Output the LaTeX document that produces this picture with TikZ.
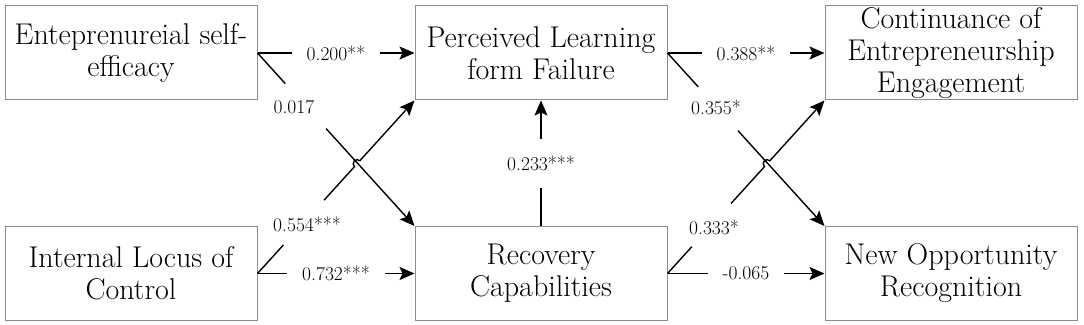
\documentclass[tikz,border=0pt]{standalone}
\usetikzlibrary{arrows.meta,calc}

\tikzset{
  box/.style={draw=black!45,line width=1pt,minimum width=252pt,minimum height=94pt,
    inner sep=0pt,align=center,font=\fontsize{30}{32}\selectfont},
  lbl/.style={font=\fontsize{19.5}{21}\selectfont,inner sep=0pt},
  gap/.style={fill=white,inner xsep=15pt,inner ysep=2pt},
  link/.style={line width=1.4pt,-{Stealth[length=15pt,width=13pt,inset=3pt]}},
  bare/.style={line width=1.4pt}
}

\begin{document}
\begin{tikzpicture}[x=1pt,y=1pt]
  \useasboundingbox (0,0) rectangle (1084,324);
  % constructs
  \node[box] (ese) at (131,271) {Enteprenureial self-\\efficacy};
  \node[box] (ilc) at (131,50.5) {Internal Locus of\\Control};
  \node[box] (plf) at (541,271) {Perceived Learning\\form Failure};
  \node[box] (rc) at (541,50.5) {Recovery\\Capabilities};
  \node[box] (cee) at (951,271) {Continuance of\\Entrepreneurship\\Engagement};
  \node[box] (nor) at (951,50.5) {New Opportunity\\Recognition};

  % straight paths
  \draw[link] (ese.east) -- node[lbl,gap] {0.200**} (plf.west);
  \draw[link] (ilc.east) -- node[lbl,gap] {0.732***} (rc.west);
  \draw[link] (plf.east) -- node[lbl,gap] {0.388**} (cee.west);
  \draw[link] (rc.east) -- node[lbl,gap] {-0.065} (nor.west);
  \draw[link] (rc.north) -- node[lbl,fill=white,inner xsep=2pt,inner ysep=17pt] {0.233***} (plf.south);

  % crossing paths, left
  \coordinate (xl) at ($(ilc.east)!0.635!(plf.south west)$);
  \draw[bare] (ese.east) -- ($(ese.east)!0.177!(rc.north west)$);
  \draw[link] ($(ese.east)!0.437!(rc.north west)$) -- (rc.north west);
  \draw[bare] (ilc.east) -- ($(ilc.east)!0.165!(plf.south west)$);
  \draw[link] ($(ilc.east)!0.424!(plf.south west)$) -- ($(xl)!4pt!(ilc.east)$)
    arc[start angle=227.7,end angle=47.7,radius=4pt] -- (plf.south west);
  \node[lbl] (l017) at (294,217) {0.017};
  \node[lbl] (l554) at (307,100) {0.554***};

  % crossing paths, right
  \coordinate (xr) at ($(rc.east)!0.635!(cee.south west)$);
  \draw[bare] (plf.east) -- ($(plf.east)!0.196!(nor.north west)$);
  \draw[link] ($(plf.east)!0.449!(nor.north west)$) -- (nor.north west);
  \draw[bare] (rc.east) -- ($(rc.east)!0.155!(cee.south west)$);
  \draw[link] ($(rc.east)!0.405!(cee.south west)$) -- ($(xr)!4pt!(rc.east)$)
    arc[start angle=227.7,end angle=47.7,radius=4pt] -- (cee.south west);
  \node[lbl] (l355) at (716,217) {0.355*};
  \node[lbl] (l333) at (714,97) {0.333*};
\end{tikzpicture}
\end{document}
